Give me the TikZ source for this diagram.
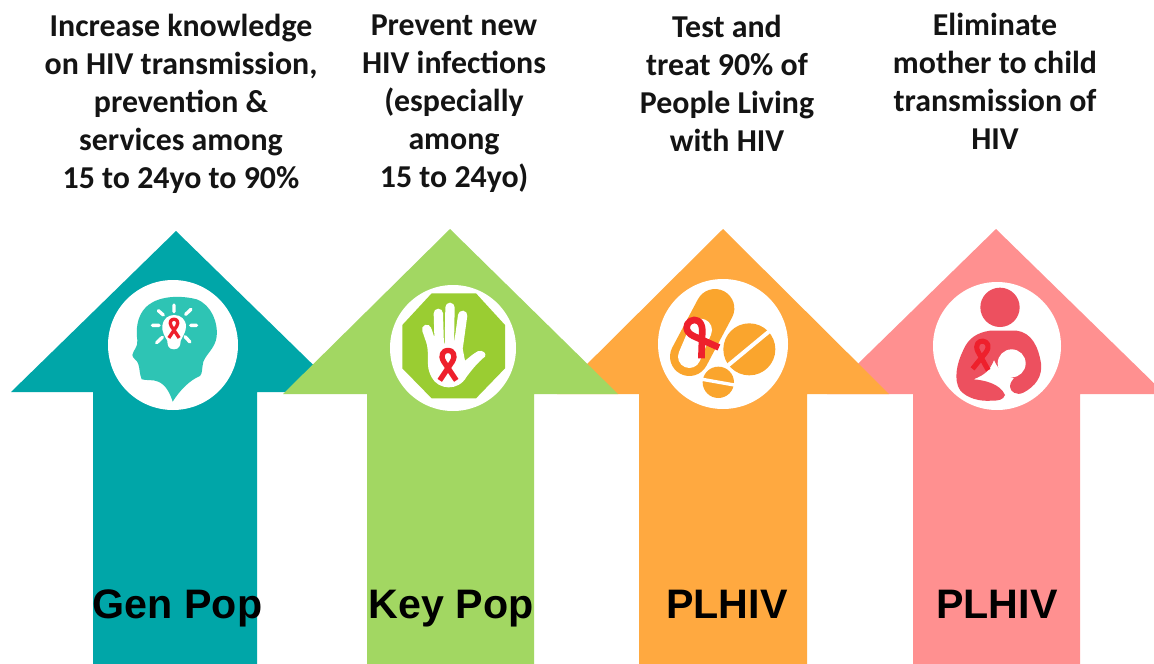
\documentclass[tikz,border=0pt]{standalone}
\usepackage{fontspec}
\setmainfont{Carlito}
\newfontfamily\labelfont{Liberation Sans}
\definecolor{cteal}{RGB}{0,166,168}
\definecolor{cgreen}{RGB}{162,215,98}
\definecolor{corange}{RGB}{255,169,64}
\definecolor{cpink}{RGB}{255,144,144}
\definecolor{chead}{RGB}{46,196,180}
\definecolor{coct}{RGB}{154,205,50}
\definecolor{cpill}{RGB}{250,165,45}
\definecolor{cmom}{RGB}{237,80,95}
\definecolor{cred}{RGB}{238,32,44}
\tikzset{
  x=0.75pt,y=-0.75pt,
  goal/.style={font=\fontsize{23.9}{28.5}\selectfont\bfseries,align=center,text=black!92,inner sep=0pt},
  poplabel/.style={font=\fontsize{30.9}{36}\selectfont\bfseries\labelfont,text=black,inner sep=0pt},
  disc/.style={circle,fill=white,inner sep=0pt,minimum size=#1},
}
\newcommand{\ribbon}[4]{%
  \begin{scope}[shift={(#1,#2)},rotate=#4,scale=#3]
    \draw[cred,line width=#3*0.1pt,line join=round] (-0.62,1.15) -- (0.32,-0.25) .. controls (0.62,-0.75) and (0.35,-1.1) .. (0,-1.1) .. controls (-0.35,-1.1) and (-0.62,-0.75) .. (-0.32,-0.25) -- (0.62,1.15);
  \end{scope}}
\begin{document}
\begin{tikzpicture}
\useasboundingbox (0,0) rectangle (1154,664);
\fill[white] (0,0) rectangle (1154,664);
\clip (0,0) rectangle (1154,664);
% arrows
\fill[cteal] (176,231) -- (341,392) -- (257,392) -- (257,664) -- (93,664) -- (93,392) -- (11,392) -- cycle;
\fill[cpink] (996,229) -- (1165,394) -- (1080,394) -- (1080,664) -- (913,664) -- (913,394) -- (827,394) -- cycle;
\fill[corange] (723,229) -- (889,394) -- (807,394) -- (807,664) -- (639,664) -- (639,394) -- (557,394) -- cycle;
\fill[cgreen] (450,229) -- (618,394) -- (534,394) -- (534,664) -- (367,664) -- (367,394) -- (283,394) -- cycle;
% discs
\node[disc=97.5pt] (d1) at (173,345) {};
\node[disc=94.5pt] (d2) at (453,348) {};
\node[disc=97.5pt] (d3) at (723,344) {};
\node[disc=96pt] (d4) at (997,346) {};
% icon 1
\begin{scope}[shift={(90,290)},scale=0.33333]
  \fill[chead] (248,335) .. controls (240,310) and (228,285) .. (205,275) .. controls (190,268) and (170,272) .. (155,268) .. controls (148,250) and (150,240) .. (145,222) .. controls (142,210) and (127,205) .. (127,195) .. controls (130,180) and (145,170) .. (142,150) .. controls (135,100) and (150,65) .. (175,45) .. controls (210,18) and (270,15) .. (320,28) .. controls (365,45) and (385,100) .. (380,140) .. controls (375,175) and (350,190) .. (340,215) .. controls (335,235) and (338,250) .. (330,258) .. controls (300,270) and (270,300) .. (248,335) -- cycle;
  \fill[white] (252,178) .. controls (235,178) and (232,165) .. (232,152) .. controls (225,140) and (215,125) .. (217,108) .. controls (220,85) and (235,75) .. (253,75) .. controls (272,75) and (288,88) .. (288,110) .. controls (288,125) and (278,140) .. (272,152) .. controls (272,165) and (268,178) .. (252,178) -- cycle;
  \draw[white,line width=2.5pt,line cap=round] (252,45)--(252,65) (205,62)--(220,75) (303,58)--(287,73) (187,106)--(207,106) (302,106)--(320,106) (200,158)--(217,142) (300,156)--(285,140);
  \ribbon{252}{115}{25}{0}
\end{scope}
% icon 2
\begin{scope}[shift={(370,290)},scale=0.33333]
  \fill[coct] (185,10) -- (318,10) -- (405,105) -- (405,235) -- (318,325) -- (185,325) -- (97,235) -- (97,105) -- cycle;
  \draw[white,line width=7pt,line cap=round] (170,118)--(188,170) (205,70)--(208,170) (240,52)--(238,170) (278,76)--(265,170);
  \fill[white] (170,160) .. controls (180,210) and (165,225) .. (185,262) .. controls (205,300) and (265,305) .. (290,260) .. controls (305,240) and (325,215) .. (345,200) .. controls (350,190) and (340,180) .. (325,183) .. controls (310,190) and (295,205) .. (285,212) -- (275,160) -- cycle;
  \ribbon{234}{225}{40}{0}
\end{scope}
% icon 3
\begin{scope}[shift={(640,290)},scale=0.33333]
  \draw[cpill,line width=29pt,line cap=round] (225,55)--(148,200);
  \draw[white,line width=17pt,line cap=round] (182,120)--(148,200);
  \fill[cpill] (328,178) circle (78);
  \draw[white,line width=3pt] (262,228)--(390,122);
  \fill[cpill] (235,277) circle (47);
  \draw[white,line width=2.5pt] (187,268)--(283,285);
  \ribbon{180}{140}{50}{32}
\end{scope}
% icon 4
\begin{scope}[shift={(910,280)},scale=0.33333]
  \fill[cmom] (270,82) circle (59);
  \fill[cmom] (240,152) -- (320,152) .. controls (365,158) and (385,200) .. (393,250) .. controls (398,290) and (375,320) .. (340,338) .. controls (320,348) and (300,335) .. (300,320) .. controls (300,308) and (308,300) .. (312,294) .. controls (290,290) and (265,270) .. (252,240) .. controls (240,270) and (225,285) .. (190,298) .. controls (220,300) and (270,310) .. (285,345) .. controls (280,360) and (265,362) .. (245,362) .. controls (210,365) and (170,355) .. (150,330) .. controls (130,300) and (140,250) .. (160,210) .. controls (175,175) and (200,158) .. (240,152) -- cycle;
  \fill[white] (305,250) circle (42);
  \ribbon{215}{225}{38}{-5}
\end{scope}
% goal texts
\node[goal] (t1) at (181,104) {Increase knowledge\\on HIV transmission,\\prevention \&\\services among\\15 to 24yo to 90\%};
\node[goal] (t2) at (454,103.5) {Prevent new\\HIV infections\\(especially\\among\\15 to 24yo)};
\node[goal] (t3) at (727,83.5) {Test and\\treat 90\% of\\People Living\\with HIV};
\node[goal] (t4) at (995,81.5) {Eliminate\\mother to child\\transmission of\\HIV};
% labels
\node[poplabel,anchor=base] (l1) at (177.5,618) {Gen Pop};
\node[poplabel,anchor=base] (l2) at (451,618) {Key Pop};
\node[poplabel,anchor=base] (l3) at (727,618) {PLHIV};
\node[poplabel,anchor=base] (l4) at (997,618) {PLHIV};
\end{tikzpicture}
\end{document}
